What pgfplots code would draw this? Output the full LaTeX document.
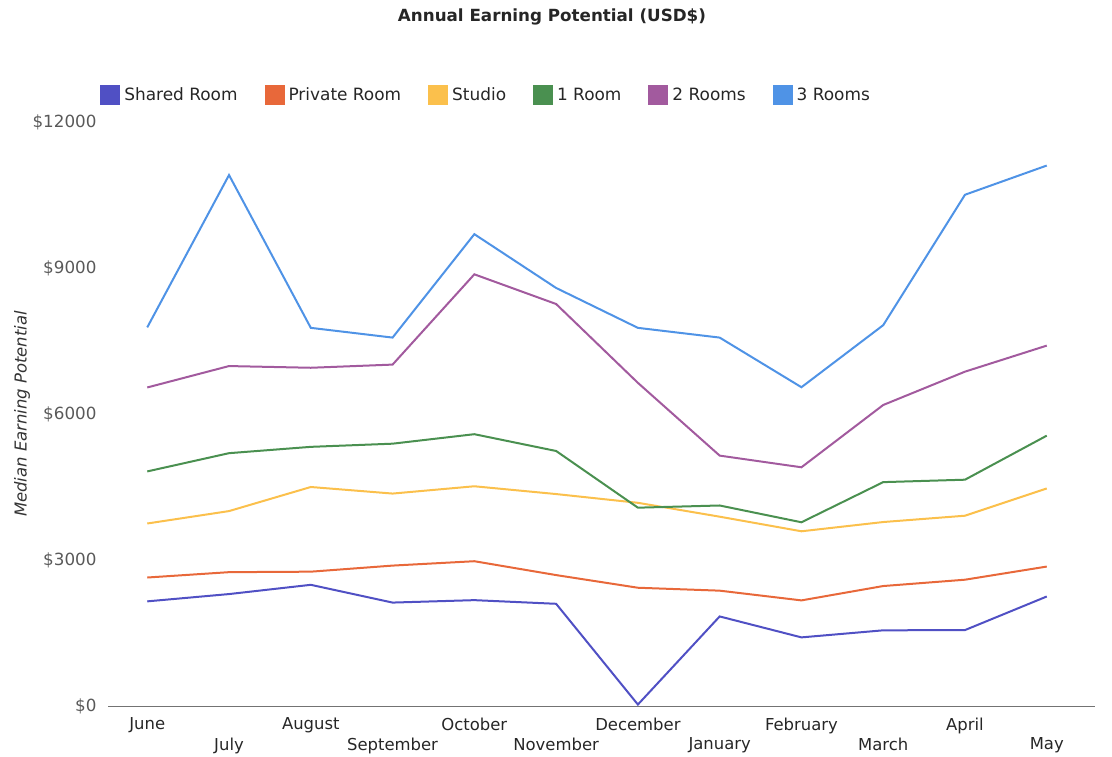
\documentclass[border=0pt]{standalone}
\usepackage{fontspec}
\setmainfont{DejaVu Sans}
\usepackage{pgfplots}
\pgfplotsset{compat=1.18}
\definecolor{cShared}{HTML}{5050C4}
\definecolor{cPrivate}{HTML}{E8683A}
\definecolor{cStudio}{HTML}{FBC04C}
\definecolor{cOne}{HTML}{4A9050}
\definecolor{cTwo}{HTML}{A25A9E}
\definecolor{cThree}{HTML}{4F93E6}
\begin{document}
\begin{tikzpicture}
\useasboundingbox (0,0) rectangle (1112bp,757bp);
\begin{axis}[
  at={(108bp,51bp)}, anchor=south west,
  scale only axis, width=987bp, height=584bp,
  xmin=-0.48, xmax=11.59, ymin=0, ymax=12000,
  scaled y ticks=false,
  axis x line*=bottom, axis y line*=left,
  y axis line style={draw=none},
  x axis line style={draw=black!55, line width=0.8bp},
  tick style={draw=none},
  xtick={0,2,4,6,8,10},
  xticklabels={June,August,October,December,February,April},
  extra x ticks={1,3,5,7,9,11},
  extra x tick labels={July,September,November,January,March,May},
  extra x tick style={tick label style={yshift=-20bp}},
  x tick label style={font=\fontsize{16.5}{19}\selectfont, text=black!85, yshift=-8bp},
  ytick={0,3000,6000,9000,12000},
  yticklabels={\$0,\$3000,\$6000,\$9000,\$12000},
  y tick label style={font=\fontsize{16.8}{19}\selectfont, text=black!65, xshift=-8bp},
  ylabel={Median Earning Potential},
  ylabel style={font=\itshape\fontsize{16.5}{19}\selectfont, text=black!80, at={(axis description cs:-0.087,0.5)}, anchor=center},
  legend columns=6,
  legend style={at={(axis description cs:-0.008,1.046)}, anchor=west, draw=none, fill=none, inner sep=0pt,
    font=\fontsize{17}{19}\selectfont, text=black!85,
    /tikz/every even column/.append style={column sep=25bp}},
  legend image code/.code={\fill[#1] (0bp,-9bp) rectangle (18bp,9bp); \path[draw=none,fill=none] (0bp,0bp) -- (21bp,0bp);},
  every axis plot/.append style={line width=2bp, mark=none},
]
\addplot[color=cShared] coordinates {(0,2150)(1,2300)(2,2490)(3,2125)(4,2175)(5,2100)(6,30)(7,1840)(8,1410)(9,1555)(10,1560)(11,2250)};
\addlegendentry{Shared Room}
\addplot[color=cPrivate] coordinates {(0,2640)(1,2750)(2,2760)(3,2885)(4,2975)(5,2690)(6,2430)(7,2370)(8,2170)(9,2465)(10,2595)(11,2865)};
\addlegendentry{Private Room}
\addplot[color=cStudio] coordinates {(0,3750)(1,4005)(2,4500)(3,4365)(4,4515)(5,4355)(6,4175)(7,3890)(8,3590)(9,3780)(10,3910)(11,4470)};
\addlegendentry{Studio}
\addplot[color=cOne] coordinates {(0,4820)(1,5195)(2,5325)(3,5390)(4,5585)(5,5240)(6,4075)(7,4120)(8,3775)(9,4600)(10,4650)(11,5555)};
\addlegendentry{1 Room}
\addplot[color=cTwo] coordinates {(0,6545)(1,6985)(2,6950)(3,7015)(4,8870)(5,8260)(6,6640)(7,5145)(8,4905)(9,6185)(10,6870)(11,7405)};
\addlegendentry{2 Rooms}
\addplot[color=cThree] coordinates {(0,7780)(1,10910)(2,7770)(3,7570)(4,9695)(5,8590)(6,7770)(7,7570)(8,6550)(9,7825)(10,10505)(11,11105)};
\addlegendentry{3 Rooms}
\end{axis}
\node[font=\bfseries\fontsize{16.8}{19}\selectfont, text=black!85] at (552bp,740bp) {Annual Earning Potential (USD\$)};
\end{tikzpicture}
\end{document}
